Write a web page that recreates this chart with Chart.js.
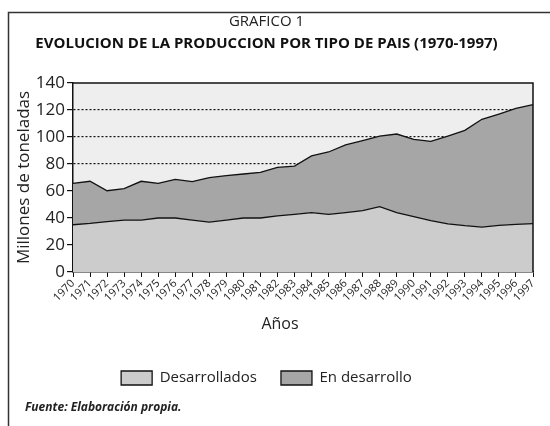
<!DOCTYPE html>
<html>
<head>
<meta charset="utf-8">
<script src="https://cdn.jsdelivr.net/npm/chart.js@4"></script>
<style>
  html, body { margin: 0; padding: 0; background: #fff; }
  #wrap { position: relative; width: 550px; height: 426px; }
</style>
</head>
<body>
<div id="wrap"><canvas id="chart" width="550" height="426"></canvas></div>
<script>
// data (millones de toneladas)
const years = ['1970','1971','1972','1973','1974','1975','1976','1977','1978','1979',
    '1980','1981','1982','1983','1984','1985','1986','1987','1988','1989',
    '1990','1991','1992','1993','1994','1995','1996','1997'];
const desarrollados = [35, 36, 37.3, 38.5, 38.5, 40, 40, 38.5, 37, 38.5,
    40, 40, 41.5, 42.7, 44, 42.7, 44, 45.4, 48.4, 44,
    41, 38, 35.6, 34.3, 33.3, 34.6, 35.3, 35.8];
const enDesarrollo = [30.7, 31.2, 22.9, 23.2, 28.7, 25.7, 28.6, 28.5, 32.9, 32.9,
    32.6, 33.8, 36, 35.8, 42, 46.2, 50.1, 51.9, 52.3, 58.2,
    57.3, 58.8, 65.1, 70.6, 79.8, 82.4, 85.9, 88.2];
const yTicks = [0, 20, 40, 60, 80, 100, 120, 140];

const FONT = "'Open Sans', 'DejaVu Sans', sans-serif";
const TXT = '#222';

// plot background, frame, outer box and the loose texts
const decor = {
    id: 'decor',
    beforeDraw(chart) {
        const {ctx, chartArea: a} = chart;
        ctx.save();
        ctx.fillStyle = '#eeeeee';
        ctx.fillRect(a.left, a.top, a.right - a.left, a.bottom - a.top);
        ctx.restore();
    },
    afterDraw(chart) {
        const {ctx, chartArea: a} = chart;
        ctx.save();
        ctx.strokeStyle = '#111';
        ctx.lineWidth = 1.5;
        ctx.beginPath();
        ctx.moveTo(a.left, a.top);
        ctx.lineTo(a.right, a.top);
        ctx.lineTo(a.right, a.bottom);
        ctx.stroke();

        // outer box
        ctx.strokeStyle = '#333';
        ctx.lineWidth = 1.5;
        ctx.beginPath();
        ctx.moveTo(8.5, 430);
        ctx.lineTo(8.5, 12.5);
        ctx.lineTo(560, 12.5);
        ctx.stroke();

        ctx.fillStyle = TXT;
        ctx.textAlign = 'center';
        ctx.textBaseline = 'middle';
        ctx.font = '16px ' + FONT;
        ctx.fillText('Años', 280, 324);

        ctx.textAlign = 'left';
        ctx.font = 'italic bold 12px ' + FONT;
        ctx.fillText('Fuente: Elaboración propia.', 25, 408);
        ctx.restore();
    }
};

new Chart(document.getElementById('chart'), {
    type: 'line',
    data: {
        labels: years,
        datasets: [{
            label: 'Desarrollados',
            data: desarrollados,
            backgroundColor: '#cccccc',
            borderColor: '#111',
            borderWidth: 1.3,
            pointRadius: 0,
            fill: 'origin',
            tension: 0
        }, {
            label: 'En desarrollo',
            data: enDesarrollo,
            backgroundColor: '#a6a6a6',
            borderColor: '#111',
            borderWidth: 1.3,
            pointRadius: 0,
            fill: '-1',
            tension: 0
        }]
    },
    options: {
        responsive: false,
        animation: false,
        layout: { padding: { top: 13, left: 0, right: 17, bottom: 30.5 } },
        plugins: {
            title: {
                display: true,
                text: 'GRAFICO 1',
                color: TXT,
                font: { family: FONT, size: 15, weight: 'normal' },
                padding: { top: 0, bottom: 4 }
            },
            subtitle: {
                display: true,
                text: 'EVOLUCION DE LA PRODUCCION POR TIPO DE PAIS (1970-1997)',
                color: '#111',
                font: { family: FONT, size: 15, weight: 'bold' },
                padding: { top: 0, bottom: 30 }
            },
            legend: {
                position: 'bottom',
                labels: {
                    boxWidth: 31,
                    boxHeight: 14,
                    padding: 24,
                    color: TXT,
                    font: { family: FONT, size: 15 }
                }
            },
            tooltip: { enabled: false }
        },
        scales: {
            x: {
                grid: { drawOnChartArea: false, tickLength: 5, color: '#111' },
                border: { color: '#111', width: 1.5 },
                ticks: {
                    autoSkip: false,
                    maxRotation: 45,
                    minRotation: 45,
                    padding: 0,
                    color: TXT,
                    font: { family: FONT, size: 11 }
                },
                afterFit(scale) { scale.height = 74.5; }
            },
            y: {
                stacked: true,
                min: 0,
                max: 140,
                afterBuildTicks(scale) { scale.ticks = yTicks.map(v => ({ value: v })); },
                grid: {
                    color: ctx => (ctx.tick && (ctx.tick.value === 0 || ctx.tick.value === 140)) ? 'rgba(0,0,0,0)' : '#111',
                    tickColor: '#111',
                    tickLength: 6,
                    tickBorderDash: [],
                    lineWidth: 1.2
                },
                border: { color: '#111', width: 1.5, dash: [2, 2] },
                ticks: {
                    padding: 2,
                    color: TXT,
                    font: { family: FONT, size: 17 }
                },
                title: {
                    display: true,
                    text: 'Millones de toneladas',
                    color: TXT,
                    font: { family: FONT, size: 17 },
                    padding: { top: 14, bottom: 0 }
                },
                afterFit(scale) { scale.width = 73; }
            }
        }
    },
    plugins: [decor]
});
</script>
</body>
</html>
